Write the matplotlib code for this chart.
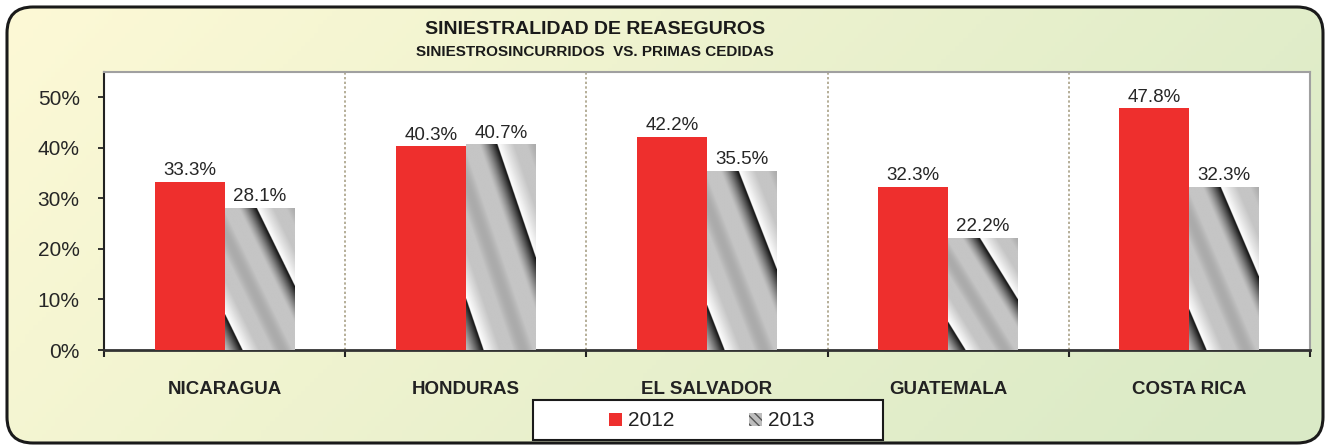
import numpy as np
import matplotlib
matplotlib.use("Agg")
import matplotlib.pyplot as plt
from matplotlib.patches import FancyBboxPatch, Rectangle, Patch

plt.rcParams["font.family"] = ["Liberation Sans", "DejaVu Sans"]

# ---- data ----
categories = ["NICARAGUA", "HONDURAS", "EL SALVADOR", "GUATEMALA", "COSTA RICA"]
values_2012 = [33.3, 40.3, 42.2, 32.3, 47.8]
values_2013 = [28.1, 40.7, 35.5, 22.2, 32.3]
series_names = ["2012", "2013"]
yticks = [0, 10, 20, 30, 40, 50]
title = "SINIESTRALIDAD DE REASEGUROS"
subtitle = "SINIESTROSINCURRIDOS  VS. PRIMAS CEDIDAS"

W, H = 1330, 446
fig = plt.figure(figsize=(W / 100, H / 100), dpi=100)
fig.patch.set_facecolor("white")

# ---- background rounded box with gradient ----
bg = fig.add_axes([0, 0, 1, 1], zorder=-5)
bg.axis("off")
gx = np.linspace(0, 1, 300)
gy = np.linspace(0, 1, 100)
GX, GY = np.meshgrid(gx, gy)
t2 = np.clip(0.8 * GX + 0.25 * (1 - GY), 0, 1)
c0 = np.array([253, 249, 214]) / 255.0
c1 = np.array([218, 234, 198]) / 255.0
img = c0[None, None, :] * (1 - t2[..., None]) + c1[None, None, :] * t2[..., None]
box = FancyBboxPatch((7, 3), W - 14, H - 10,
                     boxstyle="round,pad=0,rounding_size=26",
                     facecolor="none", edgecolor="#1a1a1a", linewidth=2.2, zorder=3)
bg.add_patch(box)
im = bg.imshow(img, extent=(7, W - 7, 3, H - 7), origin="lower", aspect="auto", zorder=1)
im.set_clip_path(box)
bg.set_xlim(0, W)
bg.set_ylim(0, H)

# ---- main axes ----
L, R, T, B = 104, 1310, 72, 350
ax = fig.add_axes([L / W, (H - B) / H, (R - L) / W, (B - T) / H])
ax.set_facecolor("white")

x = np.arange(len(categories))
bw = 0.29
red = "#EE2F2D"
bars1 = ax.bar(x - bw / 2, values_2012, width=bw, color=red, linewidth=0, zorder=3)
bars2 = ax.bar(x + bw / 2, values_2013, width=bw, color="#c4c4c4", linewidth=0, zorder=3)

# stripe texture for 2013 bars
def stripe_img(n=240, c=0.45, period=1.2):
    u = np.linspace(0, 1, n)
    v = np.linspace(0, 1, n)
    U, V = np.meshgrid(u, v)  # V: 0 top -> 1 bottom
    p = ((U - V - c) / period) % 1.0
    val = np.full_like(p, 0.77)
    m = p < 0.2
    val[m] = 1.0 - (p[m] / 0.2) * 0.23
    m = (p >= 0.35) & (p < 0.6)
    val[m] = 0.77 - 0.1 * np.sin((p[m] - 0.35) / 0.25 * np.pi)
    m = p >= 0.78
    val[m] = 0.77 - ((p[m] - 0.78) / 0.22) ** 1.3 * 0.72
    return val

for b in bars2:
    x0, w, h = b.get_x(), b.get_width(), b.get_height()
    si = ax.imshow(stripe_img(), extent=(x0, x0 + w, 0, h), origin="upper",
                   cmap="gray", vmin=0, vmax=1, aspect="auto",
                   interpolation="bilinear", zorder=4)
    si.set_clip_path(b)

for bars, vals in ((bars1, values_2012), (bars2, values_2013)):
    for b, v in zip(bars, vals):
        ax.text(b.get_x() + b.get_width() / 2, v + 0.5, f"{v:.1f}%", ha="center",
                va="bottom", fontsize=13.5, color="#262626", zorder=6)

# separators
for s in np.arange(0.5, len(categories) - 0.5, 1.0):
    ax.axvline(s, color="#b5ae98", linestyle=(0, (1.2, 1.2)), linewidth=1.4, zorder=1)

ax.set_xlim(-0.5, len(categories) - 0.5)
ax.set_ylim(0, 55)
ax.set_yticks(yticks)
ax.set_yticklabels([f"{t}%" for t in yticks], fontsize=15, color="#262626")
ax.tick_params(axis="y", direction="out", length=4.5, width=1.3, color="#222", pad=13)

ax.set_xticks(x)
ax.set_xticklabels(categories, fontsize=13.5, fontweight="bold", color="#222")
ax.tick_params(axis="x", which="major", length=0, pad=22)
ax.set_xticks(np.arange(-0.5, len(categories), 1.0), minor=True)
ax.tick_params(axis="x", which="minor", direction="out", length=5, width=1.5, color="#222")

ax.spines["left"].set_color("#222")
ax.spines["left"].set_linewidth(1.5)
ax.spines["bottom"].set_color("#333")
ax.spines["bottom"].set_linewidth(2)
for s in ("top", "right"):
    ax.spines[s].set_color("#a0a0a0")
    ax.spines[s].set_linewidth(1.5)

# titles
fig.text(595 / W, 1 - 30 / H, title, ha="center", va="center", fontsize=14,
         fontweight="bold", color="#1a1a1a")
fig.text(595 / W, 1 - 52.5 / H, subtitle, ha="center", va="center", fontsize=11,
         fontweight="bold", color="#1a1a1a")

# legend box
bg.add_patch(Rectangle((533, H - 440), 350, 40, facecolor="white",
                       edgecolor="#1a1a1a", linewidth=1.5, zorder=4))
handles = [Patch(facecolor=red, edgecolor=red, linewidth=0),
           Patch(facecolor="#bdbdbd", edgecolor="#555555", hatch="\\\\\\\\", linewidth=0)]
leg = fig.legend(handles, series_names, loc="center", ncol=2,
                 bbox_to_anchor=(712 / W, 1 - 421 / H), frameon=False,
                 fontsize=15, handlelength=0.6, handleheight=0.6,
                 handletextpad=0.3, columnspacing=3.6)
for txt in leg.get_texts():
    txt.set_color("#222")

fig.savefig("out.png", dpi=100)
